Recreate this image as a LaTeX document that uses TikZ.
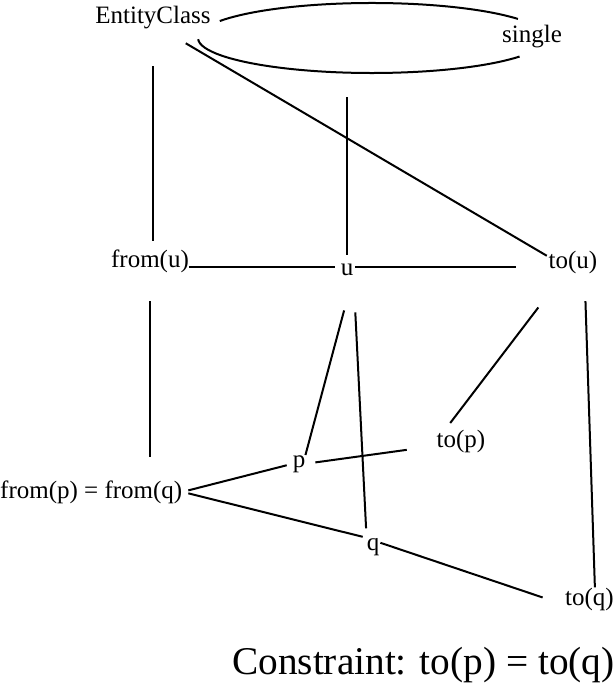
\documentclass[tikz,border=0pt]{standalone}
\usepackage{fontspec}
\setmainfont{Liberation Serif}
\begin{document}
\begin{tikzpicture}[x=1pt,y=-1pt,
  lbl/.style={inner sep=0pt, font=\fontsize{25}{30}\selectfont, anchor=base},
  edge/.style={line width=2pt},
  ]
\useasboundingbox (0,0) rectangle (615,687);
% labels
\node[lbl] (EC) at (153,24) {EntityClass};
\node[lbl] (single) at (532,43) {single};
\node[lbl] (fromu) at (150,267) {from(u)};
\node[lbl] (u) at (347,275) {u};
\node[lbl] (tou) at (573,268) {to(u)};
\node[lbl] (top) at (461,447) {to(p)};
\node[lbl] (p) at (299,467) {p};
\node[lbl, anchor=base west] (fpq) at (0,498) {from(p) = from(q)};
\node[lbl] (q) at (373,550) {q};
\node[lbl, anchor=base east] (toq) at (614,605) {to(q)};
\node[inner sep=0pt, font=\fontsize{39.3}{47}\selectfont, anchor=base west] (cons) at (232,674) {Constraint: to(p) = to(q)};
% ellipse between EntityClass and single
\coordinate (ell) at (372,38);
\coordinate (ellbot) at (372,73);
\draw[edge] ([shift={(151:174pt and 35pt)}]ell) arc[start angle=151, end angle=33, x radius=174pt, y radius=35pt];
\draw[edge] ([shift={(-32:174pt and 35pt)}]ell) arc[start angle=-32, end angle=-178, x radius=174pt, y radius=35pt];
% connectors
\draw[edge, shorten <=36.5pt, shorten >=8pt] (EC.south) -- (EC.south |- fromu.north);
\draw[edge, shorten <=38pt, shorten >=2pt] (EC.base) -- (tou.168);
\draw[edge, shorten <=8.7pt, shorten >=24pt] (u.north) -- (u.north |- ellbot);
\draw[edge, shorten <=0.4pt, shorten >=5.75pt] (fromu.east |- u.160) -- (u.160);
\draw[edge, shorten <=1.75pt, shorten >=32.7pt] (u.20) -- (tou.west |- u.20);
\draw[edge, shorten <=28.6pt, shorten >=23.6pt] (fromu.south) -- (fromu.south |- fpq.north);
\draw[edge, shorten <=36.2pt] (u.south east) -- (p.north east);
\draw[edge, shorten <=37pt, shorten >=9.5pt] (u.south east) -- (q.north west);
\draw[edge, shorten <=42.7pt, shorten >=22.6pt] (tou) -- (top.west);
\draw[edge, shorten <=27.6pt] (tou.-45) -- (toq.65);
\draw[edge, shorten <=6pt, shorten >=6pt] (fpq.east) -- (p.west);
\draw[edge, shorten <=10pt, shorten >=30pt] (p.east) -- (top.191);
\draw[edge, shorten <=6pt, shorten >=4pt] (fpq.east) -- (q.north west);
\draw[edge, shorten <=1pt, shorten >=23.6pt] (q.33) -- (toq.base west);
\end{tikzpicture}
\end{document}
